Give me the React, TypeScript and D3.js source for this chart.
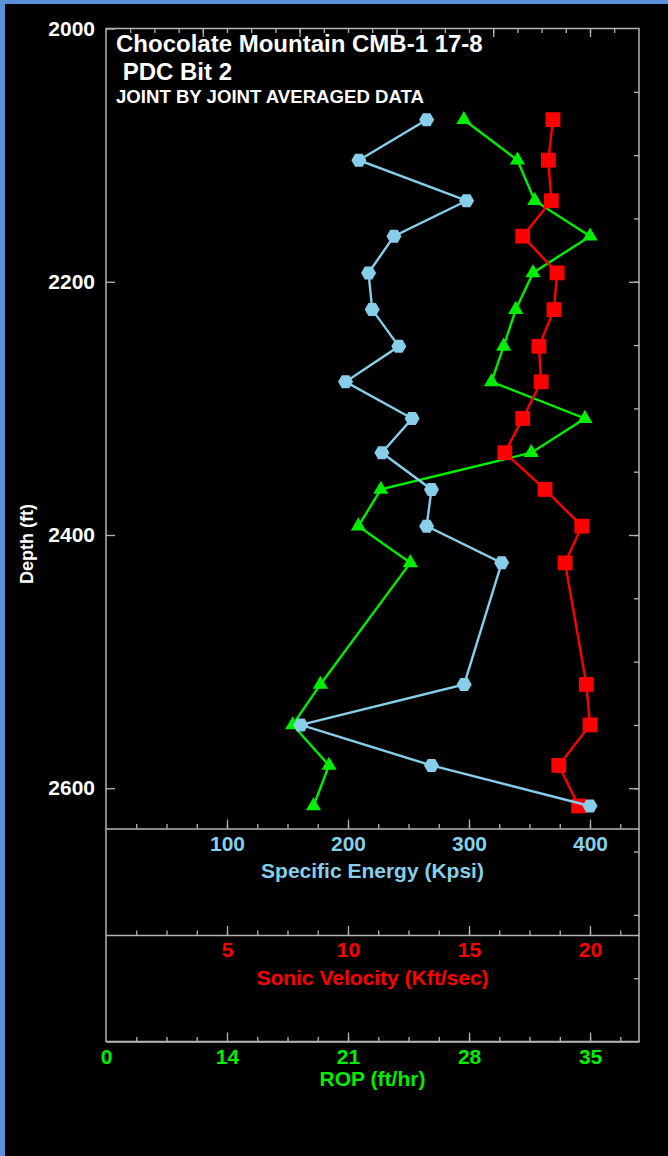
import React, { useEffect, useRef } from 'react';
import * as d3 from 'd3';

// joint by joint averaged data
const depths = [2072, 2104, 2136, 2164, 2193, 2222, 2251, 2279, 2308, 2335, 2364, 2393, 2422, 2518, 2550, 2582, 2614];
const specificEnergy = [265, 209, 298, 238, 217, 220, 242, 198, 253, 228, 269, 265, 327, 296, 161, 269, 400];
const sonicVelocity = [18.47, 18.28, 18.4, 17.22, 18.64, 18.51, 17.89, 17.98, 17.22, 16.48, 18.14, 19.66, 18.97, 19.85, 20.0, 18.71, 19.53];
const rop = [27.7, 30.8, 31.8, 35.0, 31.7, 30.7, 30.0, 29.3, 34.7, 31.6, 22.9, 21.6, 24.6, 19.4, 17.8, 19.9, 19.0];

const depthTicks = [2000, 2200, 2400, 2600];
const seTicks = [100, 200, 300, 400];
const svTicks = [5, 10, 15, 20];
const ropTicks = [0, 14, 21, 28, 35];

const titleLines = ['Chocolate Mountain CMB-1 17-8', ' PDC Bit 2'];
const subTitle = 'JOINT BY JOINT AVERAGED DATA';

const W = 668;
const H = 1156;
const FONT = '"Liberation Sans", Arial, Helvetica, sans-serif';
const SE_COLOR = '#87ceeb';
const SV_COLOR = '#ff0000';
const ROP_COLOR = '#00ee00';
const FRAME = '#b4b4b4';

const App = () => {
  const ref = useRef(null);

  useEffect(() => {
    const left = 106, right = 639, top = 28.5, bottom = 1041.5;
    const panelLines = [828.5, 935, 1041.5];

    const svg = d3.select(ref.current);
    svg.selectAll('*').remove();

    svg.append('rect').attr('width', W).attr('height', H).attr('fill', '#000');
    svg.append('rect').attr('width', 5).attr('height', H).attr('fill', '#5b8fd8');
    svg.append('rect').attr('width', W).attr('height', 4).attr('fill', '#5b8fd8');

    const y = d3.scaleLinear().domain([2000, 2800]).range([top, bottom]);
    const se = d3.scaleLinear().domain([0, 440.5]).range([left, right]);
    const sv = d3.scaleLinear().domain([0, 22.025]).range([left, right]);
    const rp = d3.scaleLinear().domain([0, 14, 37.83]).range([left, 227, right]);

    const styleAxis = (g, color) => {
      g.selectAll('line').attr('stroke', FRAME).attr('stroke-width', 1.3);
      g.selectAll('path').attr('stroke', FRAME).attr('stroke-width', 1.5);
      g.selectAll('text')
        .attr('fill', color)
        .style('font-family', FONT)
        .style('font-weight', 'bold')
        .style('font-size', '21px');
    };

    // frame
    svg.append('rect')
      .attr('x', left).attr('y', top)
      .attr('width', right - left).attr('height', bottom - top)
      .attr('fill', 'none').attr('stroke', FRAME).attr('stroke-width', 1.5);

    // depth axis (left) and right ticks
    const leftAx = svg.append('g').attr('transform', `translate(${left},0)`)
      .call(d3.axisLeft(y).tickValues(depthTicks).tickSizeInner(-9).tickSizeOuter(0).tickPadding(11).tickFormat(d3.format('d')));
    leftAx.select('.domain').remove();
    styleAxis(leftAx, '#fff');

    const rightMinor = svg.append('g').attr('transform', `translate(${right},0)`)
      .call(d3.axisRight(y).tickValues(d3.range(2050, 2800, 50)).tickSizeInner(-5).tickSizeOuter(0).tickFormat(() => ''));
    rightMinor.select('.domain').remove();
    styleAxis(rightMinor, '#fff');
    const rightMajor = svg.append('g').attr('transform', `translate(${right},0)`)
      .call(d3.axisRight(y).tickValues([2200, 2400, 2600]).tickSizeInner(-10).tickSizeOuter(0).tickFormat(() => ''));
    rightMajor.select('.domain').remove();
    styleAxis(rightMajor, '#fff');

    // top ticks
    const topMinor = svg.append('g').attr('transform', `translate(0,${top})`)
      .call(d3.axisTop(se).tickValues(d3.range(20, 440, 20)).tickSizeInner(-4.5).tickSizeOuter(0).tickFormat(() => ''));
    topMinor.select('.domain').remove();
    styleAxis(topMinor, '#fff');
    const topMajor = svg.append('g').attr('transform', `translate(0,${top})`)
      .call(d3.axisTop(se).tickValues(d3.range(80, 440, 80)).tickSizeInner(-8.5).tickSizeOuter(0).tickFormat(() => ''));
    topMajor.select('.domain').remove();
    styleAxis(topMajor, '#fff');

    // bottom axes, one per panel line
    const bottomAxes = [
      { scale: se, ticks: seTicks, minor: d3.range(25, 440, 25), color: SE_COLOR, title: 'Specific Energy (Kpsi)', titleY: 877.5 },
      { scale: sv, ticks: svTicks, minor: d3.range(1.25, 22, 1.25), color: SV_COLOR, title: 'Sonic Velocity (Kft/sec)', titleY: 985 },
      { scale: rp, ticks: ropTicks, minor: [3.5, 7, 10.5, ...d3.range(15.75, 37.8, 1.75)], color: ROP_COLOR, title: 'ROP (ft/hr)', titleY: 1086 },
    ];
    bottomAxes.forEach((a, i) => {
      const ly = panelLines[i];
      const mn = svg.append('g').attr('transform', `translate(0,${ly})`)
        .call(d3.axisBottom(a.scale).tickValues(a.minor).tickSizeInner(-4.5).tickSizeOuter(0).tickFormat(() => ''));
      mn.select('.domain').remove();
      styleAxis(mn, a.color);
      const mj = svg.append('g').attr('transform', `translate(0,${ly})`)
        .call(d3.axisBottom(a.scale).tickValues(a.ticks).tickSizeInner(-9).tickSizeOuter(0).tickPadding(7.5).tickFormat(d3.format('d')));
      styleAxis(mj, a.color);
      mj.selectAll('.tick').filter((d) => a.scale(d) <= left + 1).select('line').remove();
      svg.append('text')
        .attr('x', (left + right) / 2).attr('y', a.titleY)
        .attr('text-anchor', 'middle')
        .attr('fill', a.color)
        .style('font-family', FONT).style('font-weight', 'bold').style('font-size', '21px')
        .text(a.title);
    });

    // depth label
    svg.append('text')
      .attr('transform', 'translate(33,544) rotate(-90)')
      .attr('text-anchor', 'middle')
      .attr('fill', '#fff')
      .style('font-family', FONT).style('font-weight', 'bold').style('font-size', '18px')
      .text('Depth (ft)');

    // titles
    svg.append('text').attr('x', 116).attr('y', 52).attr('fill', '#fff')
      .style('font-family', FONT).style('font-weight', 'bold').style('font-size', '24px')
      .text(titleLines[0]);
    svg.append('text').attr('x', 116).attr('y', 80).attr('fill', '#fff')
      .attr('xml:space', 'preserve').style('white-space', 'pre')
      .style('font-family', FONT).style('font-weight', 'bold').style('font-size', '24px')
      .text(titleLines[1]);
    svg.append('text').attr('x', 116).attr('y', 103).attr('fill', '#fff')
      .style('font-family', FONT).style('font-weight', 'bold').style('font-size', '18.6px')
      .text(subTitle);

    // series
    const hexPath = (r) => {
      const pts = d3.range(6).map((k) => [r * Math.cos((k * Math.PI) / 3), r * Math.sin((k * Math.PI) / 3)]);
      return 'M' + pts.map((p) => p.join(',')).join('L') + 'Z';
    };
    const series = [
      { vals: rop, scale: rp, color: ROP_COLOR, shape: d3.symbol(d3.symbolTriangle, 100)() },
      { vals: sonicVelocity, scale: sv, color: SV_COLOR, shape: d3.symbol(d3.symbolSquare, 220)() },
      { vals: specificEnergy, scale: se, color: SE_COLOR, shape: hexPath(7.5) },
    ];
    series.forEach((s) => {
      const line = d3.line().x((d) => s.scale(d)).y((d, i) => y(depths[i]));
      svg.append('path')
        .attr('d', line(s.vals))
        .attr('fill', 'none')
        .attr('stroke', s.color)
        .attr('stroke-width', 2.4);
      svg.append('g').selectAll('path')
        .data(s.vals)
        .enter()
        .append('path')
        .attr('transform', (d, i) => `translate(${s.scale(d)},${y(depths[i])})`)
        .attr('d', s.shape)
        .attr('fill', s.color);
    });
  }, []);

  return (
    <svg ref={ref} width={W} height={H} style={{ position: 'absolute', left: 0, top: 0, display: 'block' }} />
  );
};

export default App;
